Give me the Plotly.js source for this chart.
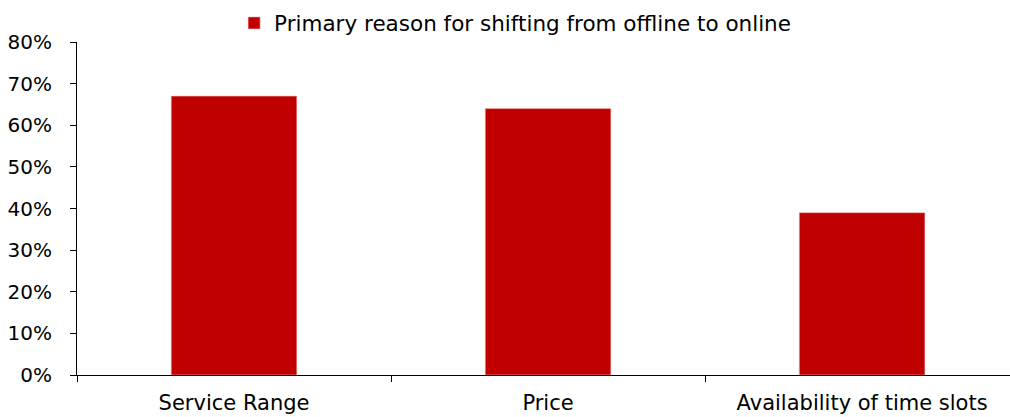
<!DOCTYPE html>
<html>
<head>
<meta charset="utf-8">
<script src="https://cdn.plot.ly/plotly-3.0.1.min.js"></script>
<style>html,body{margin:0;padding:0;background:#fff;}#chart{width:1010px;height:417px;}</style>
</head>
<body>
<div id="chart"></div>
<script>
const categories = ["Service Range", "Price", "Availability of time slots"];
const values = [0.67, 0.64, 0.39];
const seriesName = "Primary reason for shifting from offline to online";
const yTickVals = [0, 0.1, 0.2, 0.3, 0.4, 0.5, 0.6, 0.7, 0.8];
const yTickText = ["0%", "10%", "20%", "30%", "40%", "50%", "60%", "70%", "80%"];

const FONT = "DejaVu Sans, sans-serif";
const trace = {
  type: "bar",
  x: categories,
  y: values,
  name: seriesName,
  width: 0.4,
  marker: {color: "#C00000", line: {color: "#f2b8b8", width: 0.6}},
  showlegend: true,
  hoverinfo: "none"
};
const layout = {
  width: 1010, height: 417,
  margin: {l: 77, r: 0, t: 42, b: 42, autoexpand: false},
  paper_bgcolor: "#fff", plot_bgcolor: "#fff",
  font: {family: FONT, size: 20, color: "#000"},
  showlegend: true,
  legend: {orientation: "h", xref: "container", x: 0.51, xanchor: "center",
           yref: "container", y: 0.945, yanchor: "middle",
           font: {family: FONT, size: 21.5, color: "#000"}, itemwidth: 30, tracegroupgap: 0},
  xaxis: {
    type: "category",
    range: [-0.5, 2.471],
    showline: true, linecolor: "#000", linewidth: 1,
    ticks: "outside", tickson: "boundaries", ticklen: 6, tickcolor: "#000",
    showgrid: false, zeroline: false,
    ticklabelstandoff: 9,
    tickfont: {family: FONT, size: 21, color: "#000"}
  },
  yaxis: {
    range: [0, 0.8],
    tickvals: yTickVals, ticktext: yTickText,
    showline: true, linecolor: "#000", linewidth: 1,
    ticks: "outside", ticklen: 6, tickcolor: "#000",
    showgrid: false, zeroline: false,
    ticklabelstandoff: 14,
    tickfont: {family: FONT, size: 20, color: "#000"}
  }
};
Plotly.newPlot("chart", [trace], layout, {displayModeBar: false, staticPlot: true});
</script>
</body>
</html>
